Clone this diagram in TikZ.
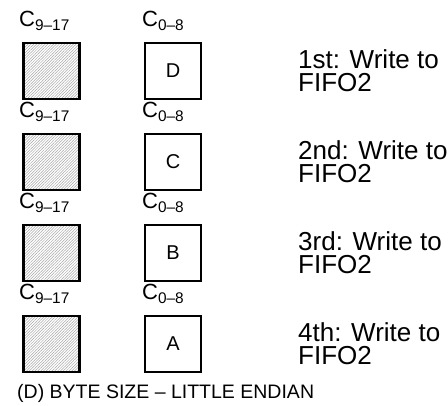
\documentclass[tikz,border=0pt]{standalone}
\usepackage{fontspec}
\setmainfont{Liberation Sans}
\usetikzlibrary{patterns.meta}

\tikzset{
  bytebox/.style={draw, line width=2.6pt, minimum size=56pt, inner sep=0pt,
    font=\fontsize{20}{22}\selectfont},
  hatchbox/.style={bytebox, pattern={Lines[angle=45, distance=2pt, line width=0.5pt]},
    pattern color=black!35},
  clabel/.style={anchor=base west, inner sep=0pt, font=\fontsize{22}{24}\selectfont},
  writenote/.style={anchor=west, align=left, inner sep=0pt, font=\fontsize{26}{23}\selectfont}
}

\begin{document}
\begin{tikzpicture}[x=1pt,y=-1pt]
    \useasboundingbox (0,0) rectangle (448,406);
    \foreach \i/\letter/\ord in {0/D/1st,1/C/2nd,2/B/3rd,3/A/4th}{
      \pgfmathsetmacro{\rowy}{71+91*\i}
      \node[hatchbox] (hi\i) at (51.5,\rowy) {};
      \node[bytebox] (lo\i) at (173,\rowy) {\letter};
      \node[clabel] (hilabel\i) at (19,\rowy-44.5) {C\textsubscript{9–17}};
      \node[clabel] (lolabel\i) at (142,\rowy-44.5) {C\textsubscript{0–8}};
      \node[writenote] (note\i) at (298,\rowy-0.5) {\ord: Write to\\FIFO2};
    }
    \node[anchor=base west, inner sep=0pt, font=\fontsize{19.5}{21}\selectfont] (caption) at (17,399)
      {(D) BYTE SIZE – LITTLE ENDIAN};
\end{tikzpicture}
\end{document}
